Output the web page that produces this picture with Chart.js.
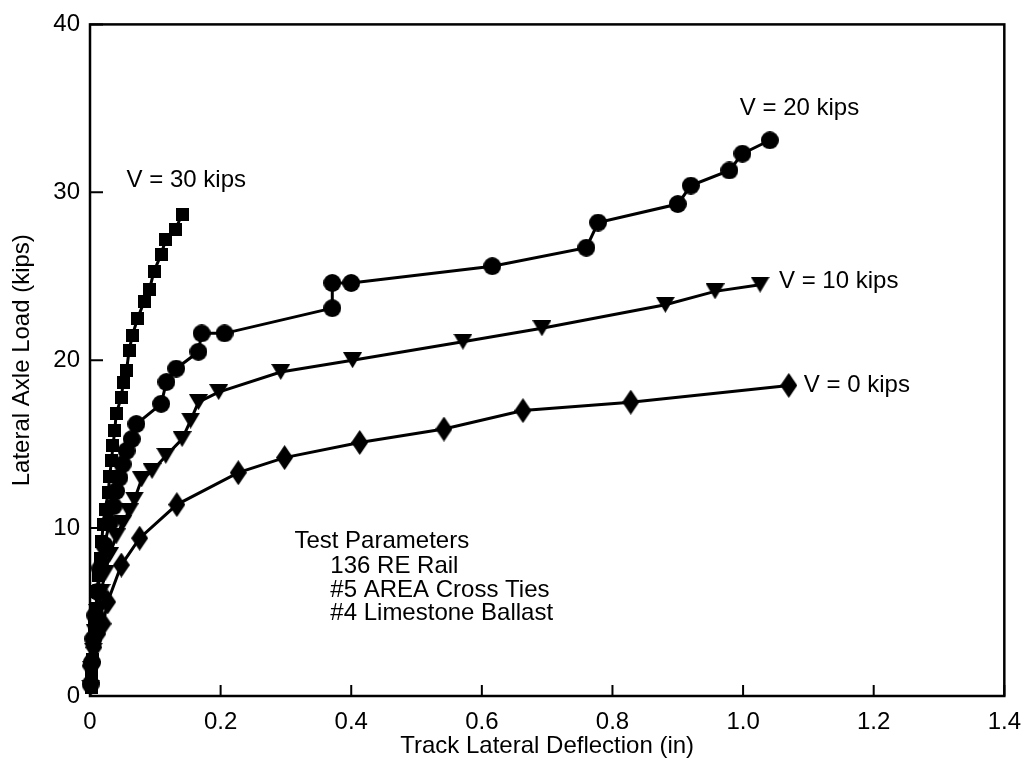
<!DOCTYPE html>
<html><head><meta charset="utf-8">
<script src="https://cdn.jsdelivr.net/npm/chart.js@4"></script>
<style>html,body{margin:0;padding:0;background:#fff;overflow:hidden}</style>
</head><body>
<canvas id="c" width="1033" height="775"></canvas>
<script>
// ---- data ----
const xTickLabels = ['0','0.2','0.4','0.6','0.8','1.0','1.2','1.4'];
const yTickLabels = ['0','10','20','30','40'];
const seriesNames = ['V = 0 kips','V = 10 kips','V = 20 kips','V = 30 kips'];
const xTitle = 'Track Lateral Deflection (in)';
const yTitle = 'Lateral Axle Load (kips)';
const noteLines = ['Test Parameters','136 RE Rail','#5 AREA Cross Ties','#4 Limestone Ballast'];

const v0X = [0.002,0.000,0.006,0.012,0.020,0.027,0.048,0.076,0.133,0.227,0.298,0.413,0.542,0.663,0.828,1.070];
const v0Y = [0.8,1.8,2.9,3.7,4.3,5.6,7.8,9.4,11.4,13.3,14.2,15.1,15.9,17.0,17.5,18.5];

const v10X = [0.001,0.003,0.005,0.008,0.012,0.017,0.023,0.030,0.040,0.050,0.060,0.068,0.079,0.095,0.116,0.141,0.154,0.166,0.197,0.292,0.402,0.571,0.692,0.881,0.957,1.026];
const v10Y = [0.5,1.6,2.7,3.8,5.0,6.2,7.3,8.4,9.5,10.3,11.0,11.7,12.9,13.4,14.3,15.3,16.4,17.5,18.1,19.3,20.0,21.1,21.9,23.3,24.1,24.5];

const v20X = [0.001,0.003,0.005,0.008,0.012,0.016,0.022,0.030,0.036,0.040,0.045,0.050,0.056,0.064,0.071,0.109,0.117,0.132,0.166,0.171,0.206,0.371,0.371,0.400,0.616,0.760,0.778,0.900,0.920,0.979,0.999,1.041];
const v20Y = [0.7,2.0,3.4,4.8,6.2,7.6,9.0,10.3,11.3,12.2,13.0,13.8,14.6,15.3,16.2,17.4,18.7,19.5,20.5,21.6,21.6,23.1,24.6,24.6,25.6,26.7,28.2,29.3,30.4,31.3,32.3,33.1];

const v30X = [0.002,0.003,0.004,0.005,0.007,0.009,0.011,0.013,0.016,0.018,0.020,0.023,0.028,0.030,0.033,0.035,0.038,0.040,0.048,0.051,0.056,0.060,0.065,0.073,0.083,0.091,0.098,0.109,0.116,0.131,0.141];
const v30Y = [0.5,1.2,2.2,3.2,4.2,5.2,6.2,7.2,8.2,9.2,10.2,11.1,12.1,13.1,14.0,14.9,15.8,16.8,17.8,18.7,19.4,20.6,21.5,22.5,23.5,24.2,25.3,26.3,27.2,27.8,28.7];

// ---- styling helpers ----
const FONT = '"Liberation Sans", Arial, Helvetica, sans-serif';
function marker(shape){
  const c = document.createElement('canvas');
  const dims = {square:[13,13], circle:[18,18], tri:[19,16], diamond:[17,25]}[shape];
  c.width = dims[0]; c.height = dims[1];
  const g = c.getContext('2d'); g.fillStyle = '#000'; g.beginPath();
  const w = c.width, h = c.height;
  if (shape==='square'){ g.rect(0,0,w,h); }
  else if (shape==='circle'){ g.arc(w/2,h/2,w/2,0,Math.PI*2); }
  else if (shape==='tri'){ g.moveTo(0,0); g.lineTo(w,0); g.lineTo(w/2,h); g.closePath(); }
  else { g.moveTo(w/2,0); g.lineTo(w,h/2); g.lineTo(w/2,h); g.lineTo(0,h/2); g.closePath(); }
  g.fill();
  return c;
}
const zip = (xs, ys) => xs.map((x,i)=>({x, y: ys[i]}));
function ds(label, xs, ys, shape){
  return {label, data: zip(xs, ys), showLine: true, borderColor:'#000', borderWidth:3,
    pointStyle: marker(shape), pointRadius: 9, pointHoverRadius: 9, backgroundColor:'#000',
    clip: false, tension: 0};
}

const labelPlugin = {
  id: 'decor',
  beforeDatasetsDraw(chart){
    const {ctx, chartArea:a, scales:{x, y}} = chart;
    ctx.save();
    ctx.strokeStyle = '#000'; ctx.lineWidth = 2.5;
    ctx.strokeRect(a.left, a.top, a.right - a.left, a.bottom - a.top);
    ctx.lineWidth = 2;
    ctx.beginPath();
    x.ticks.forEach(t => { const px = x.getPixelForValue(t.value); ctx.moveTo(px, a.bottom); ctx.lineTo(px, a.bottom - 11); });
    y.ticks.forEach(t => { const py = y.getPixelForValue(t.value); ctx.moveTo(a.left, py); ctx.lineTo(a.left + 13, py); });
    ctx.stroke();
    ctx.restore();
  },
  afterDraw(chart){
    const {ctx, scales:{x, y}} = chart;
    const opts = chart.options.plugins.decor;
    ctx.save();
    ctx.fillStyle = '#000';
    ctx.font = '24px ' + FONT;
    ctx.textBaseline = 'middle'; ctx.textAlign = 'left';
    opts.seriesLabels.forEach(l => ctx.fillText(l.text, x.getPixelForValue(l.x), y.getPixelForValue(l.y)));
    opts.note.forEach(l => ctx.fillText(l.text, x.getPixelForValue(l.x), y.getPixelForValue(l.y)));
    ctx.restore();
  }
};

new Chart(document.getElementById('c'), {
  type: 'scatter',
  data: { datasets: [
    ds(seriesNames[0], v0X, v0Y, 'diamond'),
    ds(seriesNames[1], v10X, v10Y, 'tri'),
    ds(seriesNames[2], v20X, v20Y, 'circle'),
    ds(seriesNames[3], v30X, v30Y, 'square')
  ]},
  plugins: [labelPlugin],
  options: {
    responsive: false, animation: false, devicePixelRatio: 1,
    layout: { padding: { top: 15, right: 18, bottom: 0, left: 0 } },
    plugins: {
      legend: { display: false }, tooltip: { enabled: false },
      decor: {
        seriesLabels: [
          { text: seriesNames[3], x: 0.056, y: 30.7 },
          { text: seriesNames[2], x: 0.995, y: 35.0 },
          { text: seriesNames[1], x: 1.055, y: 24.7 },
          { text: seriesNames[0], x: 1.093, y: 18.5 }
        ],
        note: [
          { text: noteLines[0], x: 0.313, y: 9.2 },
          { text: noteLines[1], x: 0.368, y: 7.7 },
          { text: noteLines[2], x: 0.368, y: 6.3 },
          { text: noteLines[3], x: 0.368, y: 4.9 }
        ]
      }
    },
    scales: {
      x: {
        type: 'linear', min: 0, max: 1.4,
        grid: { display: false, drawTicks: false }, border: { display: false },
        ticks: { stepSize: 0.2, padding: 12, color: '#000', font: { family: FONT, size: 24 },
          maxRotation: 0, autoSkip: false, callback: (v, i) => xTickLabels[i] },
        title: { display: true, text: xTitle, color: '#000', font: { family: FONT, size: 24 }, padding: { top: 0, bottom: 14 } },
        afterFit: s => { s.height = 79; }
      },
      y: {
        type: 'linear', min: 0, max: 40,
        grid: { display: false, drawTicks: false }, border: { display: false },
        ticks: { stepSize: 10, padding: 10, color: '#000', font: { family: FONT, size: 24 },
          callback: (v, i) => yTickLabels[i] },
        title: { display: true, text: yTitle, color: '#000', font: { family: FONT, size: 24 }, padding: { top: 8, bottom: 0 } },
        afterFit: s => { s.width = 90; }
      }
    }
  }
});
</script>
</body></html>
